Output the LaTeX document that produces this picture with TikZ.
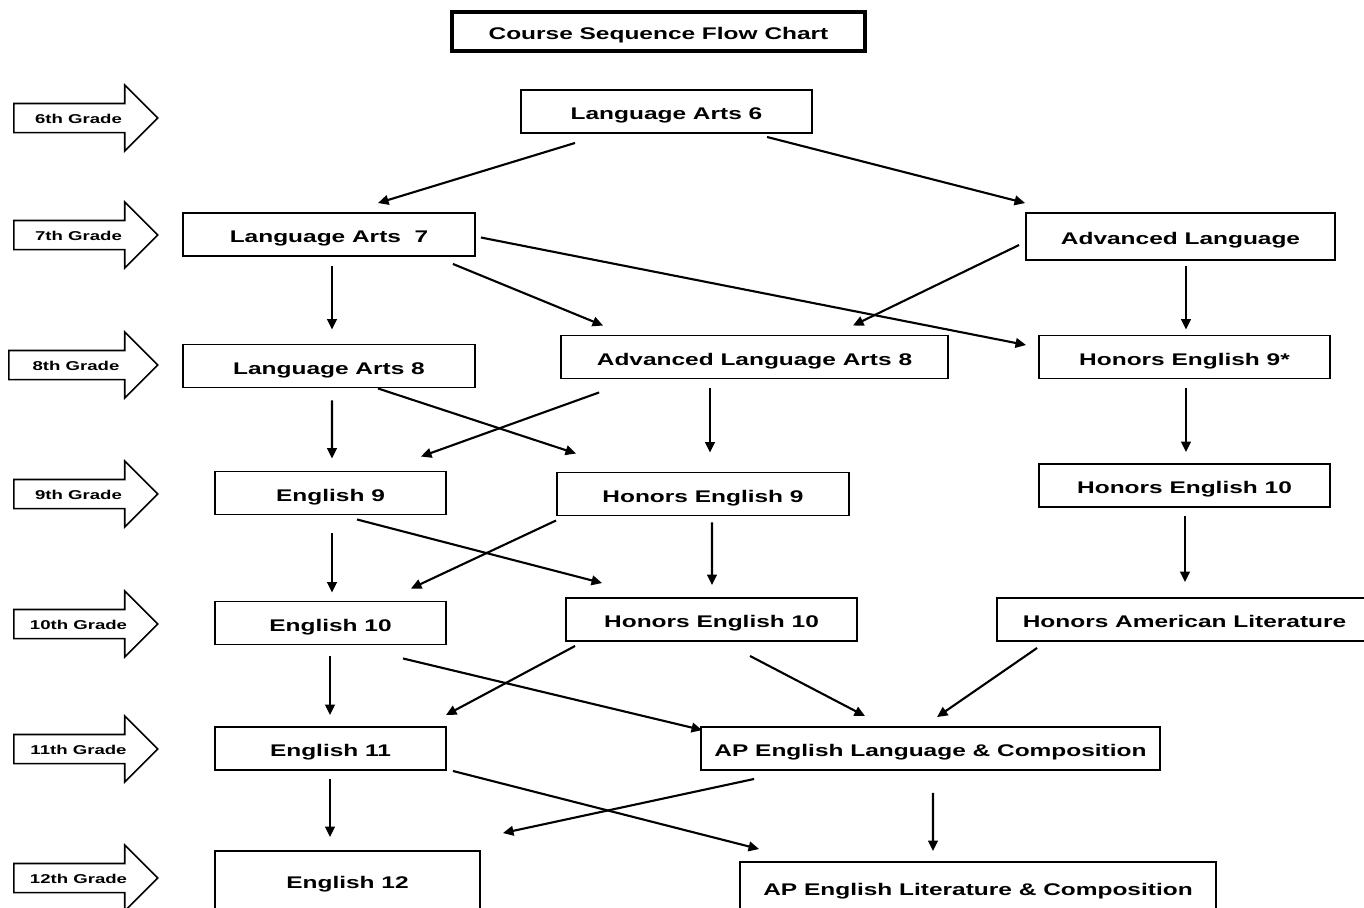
\documentclass[tikz,border=0pt]{standalone}
\usepackage{fontspec}
\setmainfont{Liberation Sans}[FakeStretch=1.45]
\usetikzlibrary{shapes.arrows,arrows.meta}

\tikzset{
	course/.style={shape=rectangle, draw=black, line width=1.1pt, minimum width=#1, minimum height=0.86cm, inner sep=0pt, text height=2ex, text depth=.25ex, font=\fontsize{9.6}{11}\selectfont\bfseries},
	grade/.style={single arrow, draw=black, line width=0.9pt, anchor=west, single arrow head extend=0.37cm, single arrow head indent=0pt, minimum height=2.88cm, text height=1.5ex, text depth=.25ex, inner ysep=3.2pt, inner xsep=2pt, font=\fontsize{7.3}{8}\selectfont\bfseries},
	flow/.style={-{Triangle[length=6pt,width=5.5pt]}, line width=1.2pt},
}

\begin{document}
\begin{tikzpicture}[x=0.02cm, y=-0.02cm]
	\useasboundingbox (0,0) rectangle (1364,907);

	\node[course=8.26cm, line width=2.3pt, minimum height=0.78cm] (title) at (658.5,31.5) {Course Sequence Flow Chart};

	% grades
	\node[grade] (g6) at (13,118) {6th Grade};
	\node[grade] (g7) at (13,235) {7th Grade};
	\node[grade, minimum height=2.98cm] (g8) at (8,365) {8th Grade};
	\node[grade] (g9) at (13,494) {9th Grade};
	\node[grade] (g10) at (13,624) {10th Grade};
	\node[grade] (g11) at (13,749) {11th Grade};
	\node[grade] (g12) at (13,878) {12th Grade};

	% courses
	\node[course=5.82cm] (la6) at (666.5,111.5) {Language Arts 6};
	\node[course=5.84cm] (la7) at (329,234.5) {Language Arts~~7};
	\node[course=6.18cm, minimum height=0.94cm] (adv) at (1180.5,236.5) {Advanced Language};
	\node[course=5.84cm] (la8) at (329,366) {Language Arts 8};
	\node[course=7.74cm] (ala8) at (754.5,357) {Advanced Language Arts 8};
	\node[course=5.82cm] (h9s) at (1184.5,357) {Honors English 9*};
	\node[course=4.62cm] (e9) at (330.5,493) {English 9};
	\node[course=5.84cm] (h9) at (703,494) {Honors English 9};
	\node[course=5.82cm] (h10r) at (1184.5,485.5) {Honors English 10};
	\node[course=4.62cm] (e10) at (330.5,623) {English 10};
	\node[course=5.82cm] (h10) at (711.5,619.5) {Honors English 10};
	\node[course=7.5cm] (hal) at (1184.5,619.5) {Honors American Literature};
	\node[course=4.62cm] (e11) at (330.5,748.5) {English 11};
	\node[course=9.18cm] (apl) at (930.5,748.5) {AP English Language \& Composition};
	\node[course=5.3cm, minimum height=1.16cm] (e12) at (347.5,880) {English 12};
	\node[course=9.52cm, minimum height=1.0cm] (aplit) at (978,887) {AP English Literature \& Composition};

	\draw[flow] ([shift={(-91.5,9)}]la6.south) -- ([shift={(49,-9)}]la7.north);
	\draw[flow] ([shift={(100.5,3)}]la6.south) -- ([shift={(0,-9)}]adv.north west);
	\draw[flow] ([shift={(5,3)}]la7.east) -- ([shift={(-12,-12)}]h9s.west);
	\draw[flow] ([shift={(3,9)}]la7.south) -- ([shift={(3,-14)}]la8.north);
	\draw[flow] ([shift={(-23,7)}]la7.south east) -- ([shift={(43,-9)}]ala8.north west);
	\draw[flow] ([shift={(-6,8.5)}]adv.west) -- ([shift={(98.5,-9)}]ala8.north);
	\draw[flow] ([shift={(5.5,5)}]adv.south) -- ([shift={(1.5,-5)}]h9s.north);
	\draw[flow] ([shift={(3,12)}]la8.south) -- ([shift={(1.5,-12)}]e9.north);
	\draw[flow] ([shift={(49,0)}]la8.south) -- ([shift={(20,-18)}]h9.north west);
	\draw[flow] ([shift={(39,13)}]ala8.south west) -- ([shift={(-26,-14)}]e9.north east);
	\draw[flow] ([shift={(-44.5,9)}]ala8.south) -- ([shift={(7,-19)}]h9.north);
	\draw[flow] ([shift={(1.5,9)}]h9s.south) -- ([shift={(1.5,-11)}]h10r.north);
	\draw[flow] ([shift={(1.5,18)}]e9.south) -- ([shift={(1.5,-8)}]e10.north);
	\draw[flow] ([shift={(26.5,4)}]e9.south) -- ([shift={(37,-14)}]h10.north west);
	\draw[flow] ([shift={(0,4)}]h9.south west) -- ([shift={(-36,-12)}]e10.north east);
	\draw[flow] ([shift={(9,6)}]h9.south) -- ([shift={(0.5,-12)}]h10.north);
	\draw[flow] ([shift={(0.5,8)}]h10r.south) -- ([shift={(0.5,-15)}]hal.north);
	\draw[flow] ([shift={(-0.5,11)}]e10.south) -- ([shift={(-0.5,-11)}]e11.north);
	\draw[flow] ([shift={(72.5,13)}]e10.south) -- ([shift={(2,4)}]apl.north west);
	\draw[flow] ([shift={(10,4)}]h10.south west) -- ([shift={(-1,-11)}]e11.north east);
	\draw[flow] ([shift={(38.5,14)}]h10.south) -- ([shift={(-65.5,-10)}]apl.north);
	\draw[flow] ([shift={(41,6)}]hal.south west) -- ([shift={(6.5,-9)}]apl.north);
	\draw[flow] ([shift={(-0.5,8)}]e11.south) -- ([shift={(-17.5,-13)}]e12.north);
	\draw[flow] ([shift={(6,0)}]e11.south east) -- ([shift={(20,-12)}]aplit.north west);
	\draw[flow] ([shift={(54,8)}]apl.south west) -- ([shift={(22,-17)}]e12.north east);
	\draw[flow] ([shift={(2.5,22)}]apl.south) -- ([shift={(-45,-10)}]aplit.north);

\end{tikzpicture}
\end{document}
